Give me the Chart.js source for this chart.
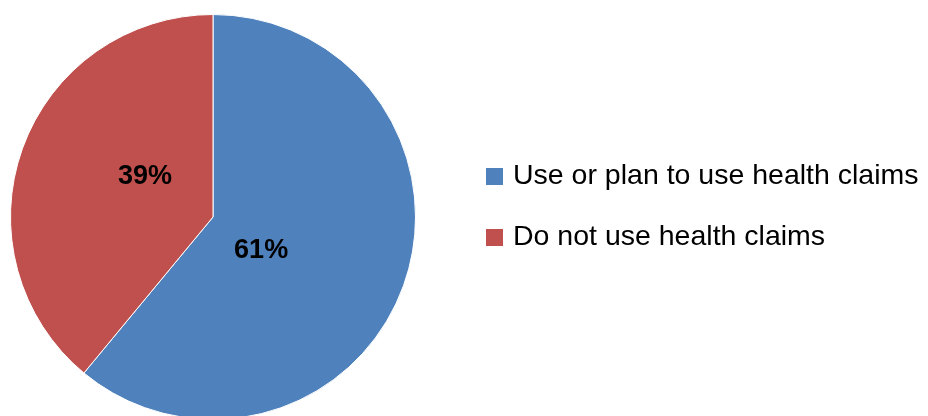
<!DOCTYPE html>
<html>
<head>
<meta charset="utf-8">
<script src="https://cdn.jsdelivr.net/npm/chart.js@4.4.1/dist/chart.umd.min.js"></script>
<style>
  html, body { margin: 0; padding: 0; background: #fff; overflow: hidden; }
  #wrap { width: 928px; height: 424px; position: relative; }
</style>
</head>
<body>
<div id="wrap"><canvas id="pieChart"></canvas></div>
<script>
// Share of respondents using health claims
const categories = ['Use or plan to use health claims', 'Do not use health claims'];
const shares = [61, 39];
const sliceColors = ['#4F81BD', '#C0504D'];

// Percent labels inside the slices, plus a hand-drawn legend on the right
const sliceLabels = {
    id: 'sliceLabels',
    afterDatasetsDraw(chart, args, opts) {
        const ctx = chart.ctx;
        const arcs = chart.getDatasetMeta(0).data;
        ctx.save();
        ctx.font = 'bold 27px "Liberation Sans", Arial, sans-serif';
        ctx.fillStyle = '#000';
        ctx.textAlign = 'center';
        ctx.textBaseline = 'middle';
        arcs.forEach((arc, i) => {
            const mid = (arc.startAngle + arc.endAngle) / 2 + opts.shift[i];
            const r = arc.outerRadius * opts.frac[i];
            ctx.fillText(shares[i] + '%', arc.x + Math.cos(mid) * r, arc.y + Math.sin(mid) * r);
        });
        ctx.restore();
    }
};

const sideLegend = {
    id: 'sideLegend',
    afterDraw(chart, args, opts) {
        const ctx = chart.ctx;
        ctx.save();
        ctx.font = '28.5px "Liberation Sans", Arial, sans-serif';
        ctx.textBaseline = 'middle';
        ctx.textAlign = 'left';
        categories.forEach((name, i) => {
            const y = opts.top + i * opts.step;
            ctx.fillStyle = sliceColors[i];
            ctx.fillRect(opts.left, y - 8.5, 17, 17);
            ctx.fillStyle = '#000';
            ctx.fillText(name, opts.left + 27, y);
        });
        ctx.restore();
    }
};

const pieChart = new Chart(document.getElementById('pieChart'), {
    type: 'pie',
    data: {
        labels: categories,
        datasets: [{
            data: shares,
            backgroundColor: sliceColors,
            borderColor: '#ffffff',
            borderWidth: 1
        }]
    },
    options: {
        responsive: true,
        maintainAspectRatio: false,
        animation: false,
        layout: {
            padding: { left: 10, top: 14, right: 512, bottom: 4 }
        },
        plugins: {
            legend: { display: false },
            tooltip: { enabled: false },
            sliceLabels: { frac: [0.29, 0.39], shift: [0.265, 0.187] },
            sideLegend: { left: 486, top: 176.5, step: 61 }
        }
    },
    plugins: [sliceLabels, sideLegend]
});
</script>
</body>
</html>
